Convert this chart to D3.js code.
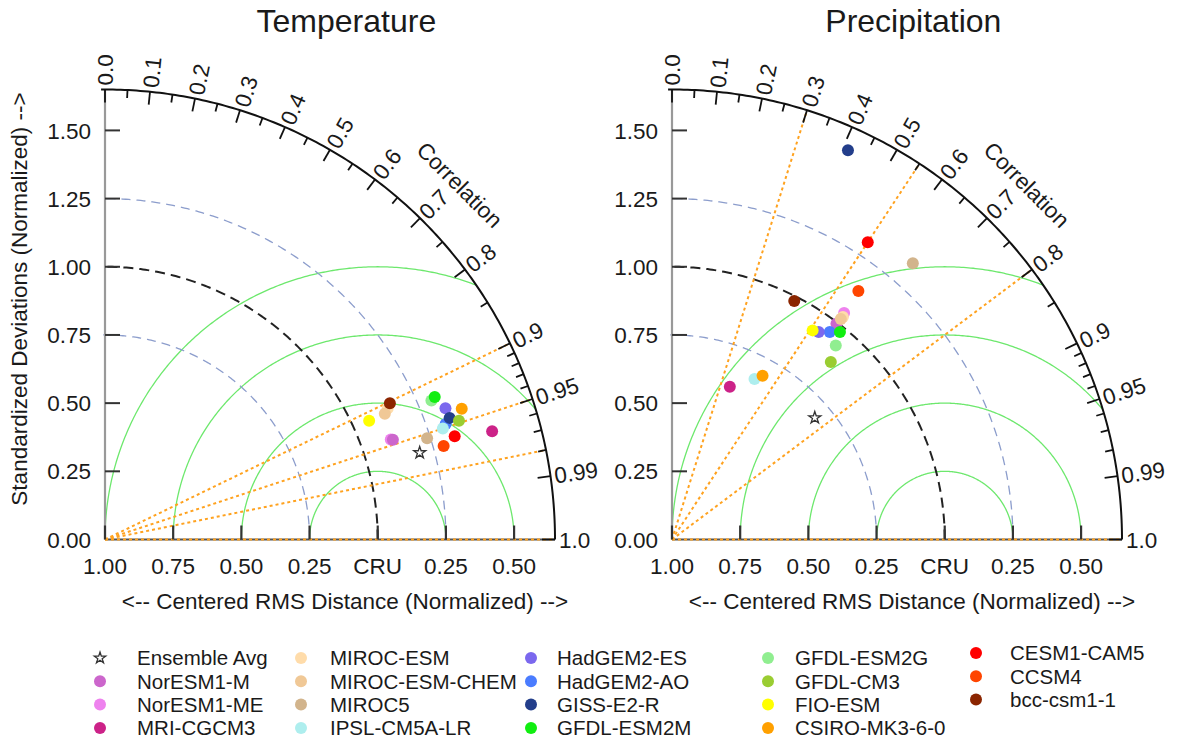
<!DOCTYPE html>
<html><head><meta charset="utf-8">
<script src="https://cdn.jsdelivr.net/npm/d3@7"></script>
<style>
body{margin:0;background:#fff}
text{font-family:"Liberation Sans",Arial,Helvetica,sans-serif;fill:#1a1a1a}
</style>
</head><body>
<svg id="chart" width="1178" height="747"></svg>
<script>
// ---------- data ----------
const models = ["NorESM1-M","NorESM1-ME","MRI-CGCM3","MIROC-ESM","MIROC-ESM-CHEM","MIROC5",
  "IPSL-CM5A-LR","HadGEM2-ES","HadGEM2-AO","GISS-E2-R","GFDL-ESM2M","GFDL-ESM2G","GFDL-CM3",
  "FIO-ESM","CSIRO-MK3-6-0","CESM1-CAM5","CCSM4","bcc-csm1-1"];
const modelColors = ["#cc66cc","#ee82ee","#cc2288","#ffdcaa","#f0c896","#d2b48c",
  "#aeeeee","#7b68ee","#4a7cff","#233e8b","#11ee11","#90ee90","#9acd32",
  "#ffff00","#ffa000","#ff0000","#ff4500","#8b2500"];
// order in which the markers are stacked (later = on top)
const drawOrder = [1,0,2,3,4,5,8,6,7,9,11,10,12,13,14,15,16,17];
// Temperature: normalized standard deviation and correlation
const tempStd = [1.117,1.110,1.474,1.143,1.125,1.238,1.304,1.338,1.319,1.340,1.317,1.301,1.369,1.062,1.393,1.337,1.288,1.158];
const tempCor = [0.945,0.944,0.963,0.907,0.912,0.954,0.950,0.933,0.947,0.943,0.918,0.920,0.948,0.912,0.939,0.959,0.964,0.902];
// Precipitation
const precStd = [0.995,1.043,0.599,1.029,1.018,1.344,0.662,0.932,0.956,1.566,0.979,0.931,0.873,0.924,0.686,1.305,1.139,0.983];
const precCor = [0.606,0.605,0.354,0.609,0.608,0.657,0.457,0.577,0.605,0.412,0.629,0.645,0.667,0.558,0.484,0.550,0.600,0.456];
// Ensemble average [std, corr]
const tempEnsemble = [1.197,0.964];
const precEnsemble = [0.688,0.761];
// reference correlation lines
const tempCorLines = [0.9,0.95,0.98,1.0];
const precCorLines = [0.3,0.55,0.8,1.0];
// axis ticks
const stdTicks = [0.25,0.5,0.75,1.0,1.25,1.5];
const stdTickLabels = ["0.25","0.50","0.75","1.00","1.25","1.50"];
const rmsTicks = [0,0.25,0.5,0.75,1.0,1.25,1.5];
const rmsTickLabels = ["1.00","0.75","0.50","0.25","CRU","0.25","0.50"];
const corMajor = [0,0.1,0.2,0.3,0.4,0.5,0.6,0.7,0.8,0.9,0.95,0.99,1.0];
const corMajorLabels = ["0.0","0.1","0.2","0.3","0.4","0.5","0.6","0.7","0.8","0.9","0.95","0.99","1.0"];
const corMinor = [0.05,0.15,0.25,0.35,0.45,0.55,0.65,0.75,0.85,0.91,0.92,0.93,0.94,0.96,0.97,0.98];
const stdArcsBlue = [0.75,1.25];
const stdArcRef = [1.0];
const rmsArcs = [0.25,0.5,0.75,1.0];
const maxStd = 1.65;

// ---------- drawing ----------
const svg = d3.select("#chart");
const r = d3.scaleLinear().domain([0,maxStd]).range([0,450]);
const FONT = 22.5;

function panel(id, ox, oy, title, stds, cors, ens, corLines){
  const g = svg.append("g").attr("transform",`translate(${ox},${oy})`);
  const P = (s,c)=>[r(s*c), -r(s*Math.sqrt(Math.max(0,1-c*c)))];
  const angles = d3.range(0,91,0.5).map(a=>a*Math.PI/180);
  const line = d3.line();

  const clipId = "clip"+id;
  g.append("clipPath").attr("id",clipId).append("path")
    .attr("d", line([[0,0]].concat(angles.map(a=>[r(maxStd)*Math.cos(a), -r(maxStd)*Math.sin(a)]))) + "Z");

  // green RMS arcs centered on reference
  const half = d3.range(0,181,0.5).map(a=>a*Math.PI/180);
  g.append("g").attr("clip-path",`url(#${clipId})`).selectAll("path").data(rmsArcs).join("path")
    .attr("d", rho => line(half.map(t=>[r(1+rho*Math.cos(t)), -r(rho*Math.sin(t))])))
    .attr("fill","none").attr("stroke","#6de86d").attr("stroke-width",1.3);

  // std arcs
  g.selectAll(".sb").data(stdArcsBlue).join("path")
    .attr("d", s => line(angles.map(a=>[r(s)*Math.cos(a), -r(s)*Math.sin(a)])))
    .attr("fill","none").attr("stroke","#8c9dcc").attr("stroke-width",1.3).attr("stroke-dasharray","9,6");
  g.selectAll(".sr").data(stdArcRef).join("path")
    .attr("d", s => line(angles.map(a=>[r(s)*Math.cos(a), -r(s)*Math.sin(a)])))
    .attr("fill","none").attr("stroke","#222").attr("stroke-width",2).attr("stroke-dasharray","10,6");

  // axes
  g.append("line").attr("x1",0).attr("y1",0).attr("x2",0).attr("y2",-r(maxStd))
    .attr("stroke","#999").attr("stroke-width",2.2);
  g.append("line").attr("x1",0).attr("y1",0).attr("x2",r(maxStd)).attr("y2",0)
    .attr("stroke","#555").attr("stroke-width",2);

  // orange correlation lines
  g.selectAll(".cl").data(corLines).join("line")
    .attr("x1",0).attr("y1",0)
    .attr("x2",c=>P(maxStd,c)[0]).attr("y2",c=>P(maxStd,c)[1])
    .attr("stroke","#ffa21f").attr("stroke-width",2).attr("stroke-dasharray","3,3");

  // y ticks
  g.selectAll(".yt").data(stdTicks).join("line")
    .attr("x1",0).attr("x2",15).attr("y1",s=>-r(s)).attr("y2",s=>-r(s))
    .attr("stroke","#333").attr("stroke-width",2);
  g.selectAll(".yl").data([0].concat(stdTicks)).join("text")
    .attr("x",-14).attr("y",s=>-r(s)).attr("dy","0.36em")
    .attr("text-anchor","end").attr("font-size",FONT)
    .text((s,i)=> i===0 ? "0.00" : stdTickLabels[i-1]);

  // x ticks (RMS)
  g.selectAll(".xt").data(rmsTicks).join("line")
    .attr("x1",s=>r(s)).attr("x2",s=>r(s)).attr("y1",0).attr("y2",-14)
    .attr("stroke","#333").attr("stroke-width",2.2);
  g.selectAll(".xl").data(rmsTicks).join("text")
    .attr("x",s=>r(s)).attr("y",34)
    .attr("text-anchor","middle").attr("font-size",FONT)
    .text((s,i)=>rmsTickLabels[i]);

  // outer arc
  g.append("path").attr("d", line(angles.map(a=>[r(maxStd)*Math.cos(a), -r(maxStd)*Math.sin(a)])))
    .attr("fill","none").attr("stroke","#111").attr("stroke-width",2);
  const tick = (c,len)=>{const a=Math.acos(c);return [[r(maxStd)*Math.cos(a), -r(maxStd)*Math.sin(a)],[(r(maxStd)-len)*Math.cos(a), -(r(maxStd)-len)*Math.sin(a)]];};
  g.selectAll(".cM").data(corMajor).join("path").attr("d",c=>line(tick(c,13)))
    .attr("stroke","#111").attr("stroke-width",1.8);
  g.selectAll(".cm").data(corMinor).join("path").attr("d",c=>line(tick(c,8)))
    .attr("stroke","#111").attr("stroke-width",1.8);
  g.selectAll(".cL").data(corMajor).join("text")
    .attr("transform",c=>{const a=Math.acos(c);const rr=r(maxStd)+4;
      return `translate(${rr*Math.cos(a)},${-rr*Math.sin(a)}) rotate(${-a*180/Math.PI})`;})
    .attr("dy","0.36em").attr("font-size",FONT)
    .text((c,i)=>corMajorLabels[i]);
  const ca = Math.PI/4, cr = r(1.84);
  g.append("text").attr("transform",`translate(${cr*Math.cos(ca)},${-cr*Math.sin(ca)}) rotate(45)`)
    .attr("text-anchor","middle").attr("dy","0.36em").attr("font-size",FONT).text("Correlation");

  // titles
  g.append("text").attr("x",r(0.885)).attr("y",-508).attr("text-anchor","middle")
    .attr("font-size",32).text(title);
  g.append("text").attr("x",r(0.88)).attr("y",69).attr("text-anchor","middle")
    .attr("font-size",FONT).text("<-- Centered RMS Distance (Normalized) -->");

  // points
  g.selectAll(".pt").data(drawOrder).join("circle")
    .attr("cx",i=>P(stds[i],cors[i])[0]).attr("cy",i=>P(stds[i],cors[i])[1])
    .attr("r",6).attr("fill",i=>modelColors[i]);
  const e = P(ens[0],ens[1]);
  g.append("path").attr("transform",`translate(${e[0]},${e[1]})`)
    .attr("d",d3.symbol(d3.symbolStar,45)()).attr("fill","#fff").attr("stroke","#333").attr("stroke-width",1.3);
}

panel("T",105,539.5,"Temperature",tempStd,tempCor,tempEnsemble,tempCorLines);
panel("P",672,539.5,"Precipitation",precStd,precCor,precEnsemble,precCorLines);

// y axis title (left panel)
svg.append("text").attr("transform","translate(27,299) rotate(-90)").attr("text-anchor","middle")
  .attr("font-size",FONT).text("Standardized Deviations (Normalized) -->");

// ---------- legend ----------
const legendNames = ["Ensemble Avg"].concat(models);
const legendColors = [null].concat(modelColors);
const colMarkerX = [100,301,531,768,976];
const colTextX = [137,330,557,795,1010];
const lg = svg.append("g");
legendNames.forEach((name,i)=>{
  const col = Math.floor(i/4), row = i%4;
  const y = (col===4 ? 653 : 658) + row*23.3;
  if(i===0){
    lg.append("path").attr("transform",`translate(${colMarkerX[col]},${y})`)
      .attr("d",d3.symbol(d3.symbolStar,40)()).attr("fill","#fff").attr("stroke","#333").attr("stroke-width",1.3);
  } else {
    lg.append("circle").attr("cx",colMarkerX[col]).attr("cy",y).attr("r",6).attr("fill",legendColors[i]);
  }
  lg.append("text").attr("x",colTextX[col]).attr("y",y).attr("dy","0.36em").attr("font-size",20.5).text(name);
});
</script>
</body></html>
